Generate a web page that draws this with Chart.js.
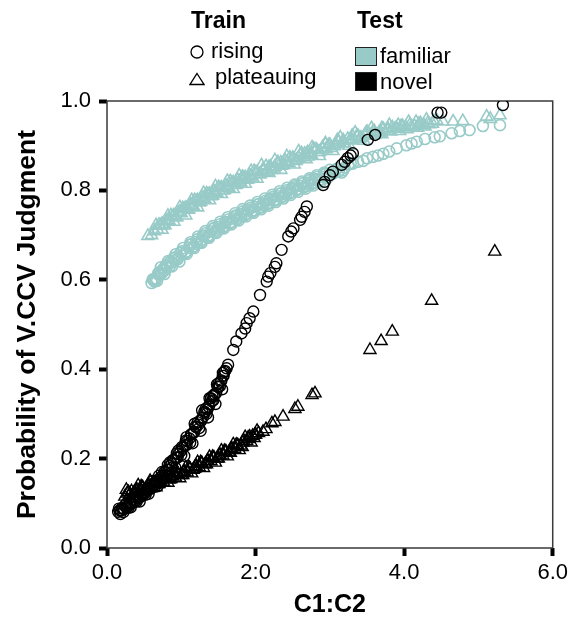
<!DOCTYPE html>
<html>
<head>
<meta charset="utf-8">
<script src="https://cdn.jsdelivr.net/npm/chart.js@4.4.0/dist/chart.umd.min.js"></script>
<style>
  body { margin: 0; background: #fff; }
  #wrap { position: relative; width: 572px; height: 619px; font-family: 'Liberation Sans', Arial, sans-serif; color: #000; }
  #wrap canvas { position: absolute; left: 0; top: 0; }
  .lg { position: absolute; line-height: 1; white-space: nowrap; }
  .lg.head { font-weight: bold; font-size: 23px; }
  .lg.item { font-size: 22px; }
  .sym { position: absolute; }
  .swatch { position: absolute; width: 20px; height: 17px; border: 1px solid #222; }
</style>
</head>
<body>
<div id="wrap">
  <canvas id="chart" width="572" height="619"></canvas>
  <div class="lg head" style="left:191px; top:9px;">Train</div>
  <div class="lg head" style="left:357px; top:9px;">Test</div>
  <svg class="sym" style="left:189px; top:44px;" width="16" height="16"><circle cx="8" cy="8" r="6" fill="none" stroke="#000" stroke-width="1.3"/></svg>
  <div class="lg item" style="left:211px; top:40px;">rising</div>
  <svg class="sym" style="left:189px; top:72px;" width="16" height="14"><polygon points="8,1.5 15,12.5 1,12.5" fill="none" stroke="#000" stroke-width="1.3"/></svg>
  <div class="lg item" style="left:215px; top:66px;">plateauing</div>
  <div class="swatch" style="left:355px; top:47px; background:#98cbc8;"></div>
  <div class="lg item" style="left:380px; top:45px;">familiar</div>
  <div class="swatch" style="left:355px; top:72px; background:#000;"></div>
  <div class="lg item" style="left:380px; top:71px;">novel</div>
</div>
<script>
// tick labels as printed on the original figure
const xTickLabels = ['0.0', '2:0', '4.0', '6.0'];
const yTickLabels = ['0.0', '0.2', '0.4', '0.6', '0.8', '1.0'];

// rising training, novel test items (black circles)
const risingNovelX = [0.15,0.17,0.19,0.21,0.23,0.25,0.28,0.30,0.33,0.36,0.39,0.42,0.45,0.48,0.51,0.54,0.57,0.60,0.63,0.66,0.69,0.72,0.75,0.78,0.81,0.84,0.87,0.90,0.93,0.96,0.99,1.02,1.05,1.08,1.11,1.14,1.17,1.20,1.23,1.26,1.29,1.32,1.35,1.38,1.41,1.44,1.47,1.50,1.54,1.57,1.59,1.63,1.70,1.74,1.81,1.86,1.88,1.92,1.97,2.06,2.15,2.17,2.20,2.26,2.28,2.35,2.44,2.48,2.51,2.60,2.62,2.66,2.69,2.91,2.93,3.00,3.04,3.16,3.20,3.24,3.28,3.31,3.51,3.61,4.45,4.50,5.33,
  0.16,0.22,0.26,0.32,0.38,0.44,0.50,0.56,0.62,0.68,0.74,0.80,0.85,0.92,0.96,1.04,1.07,1.15,1.18,1.26,1.28,1.36,1.38,1.46,1.48,1.55,1.56,1.61,
  0.18,0.24,0.29,0.34,0.40,0.46,0.52,0.58,0.64,0.70,0.76,0.82,0.88,0.94,1.00,1.06,1.12,1.19,1.24,1.31,1.34,1.40,1.43,1.50,1.52,1.58,
  0.20,0.27,0.31,0.37,0.41,0.47,0.53,0.59,0.65,0.71,0.77,0.83,0.89,0.95,1.01,1.07,1.13,1.17,1.22,1.27,1.33,1.37,1.42,1.45,1.49,1.53,1.56];
const risingNovelY = [0.081,0.084,0.083,0.088,0.087,0.092,0.093,0.098,0.099,0.105,0.106,0.112,0.114,0.120,0.122,0.128,0.131,0.137,0.140,0.147,0.151,0.158,0.162,0.170,0.175,0.183,0.188,0.196,0.202,0.210,0.216,0.224,0.230,0.239,0.245,0.254,0.260,0.270,0.276,0.286,0.292,0.303,0.310,0.321,0.328,0.340,0.347,0.360,0.375,0.385,0.396,0.410,0.443,0.462,0.480,0.491,0.503,0.514,0.529,0.566,0.596,0.607,0.615,0.629,0.637,0.667,0.697,0.708,0.715,0.734,0.741,0.752,0.764,0.812,0.819,0.834,0.842,0.857,0.864,0.872,0.878,0.883,0.913,0.924,0.974,0.974,0.991,
  0.088,0.080,0.099,0.091,0.114,0.104,0.130,0.121,0.150,0.138,0.170,0.160,0.192,0.180,0.218,0.206,0.248,0.234,0.278,0.262,0.308,0.292,0.335,0.322,0.366,0.355,0.392,0.402,
  0.076,0.095,0.090,0.107,0.104,0.122,0.119,0.140,0.137,0.162,0.158,0.186,0.180,0.212,0.208,0.240,0.236,0.272,0.268,0.305,0.300,0.335,0.330,0.368,0.362,0.394,
  0.089,0.091,0.102,0.103,0.115,0.117,0.130,0.133,0.148,0.152,0.170,0.175,0.197,0.202,0.226,0.230,0.254,0.258,0.281,0.285,0.312,0.316,0.340,0.344,0.361,0.372,0.385];

// plateauing training, novel test items (black triangles)
const plateauNovelX = [0.24,0.27,0.30,0.33,0.36,0.40,0.44,0.48,0.52,0.56,0.60,0.64,0.68,0.72,0.76,0.80,0.84,0.88,0.92,0.96,1.00,1.04,1.08,1.12,1.16,1.20,1.24,1.28,1.32,1.36,1.40,1.44,1.48,1.52,1.56,1.60,1.64,1.68,1.72,1.76,1.80,1.84,1.88,1.92,1.96,2.00,2.04,2.10,2.14,2.22,2.26,2.37,2.53,2.57,2.76,2.80,3.54,3.69,3.84,4.37,5.22,
  0.26,0.34,0.42,0.50,0.58,0.66,0.74,0.82,0.90,0.98,1.06,1.14,1.22,1.30,1.38,1.46,1.54,1.62,1.70,1.78,1.86,1.94,2.02,
  0.29,0.38,0.46,0.54,0.62,0.70,0.78,0.86,0.94,1.02,1.10,1.18,1.26,1.34,1.42,1.50,1.58,1.66,1.74,1.82,1.90,1.98,
  0.31,0.39,0.47,0.55,0.63,0.71,0.79,0.87,0.95,1.03,1.11,1.19,1.27,1.35,1.43,1.51,1.59,1.67,1.75,1.83,1.91,1.99];
const plateauNovelY = [0.115,0.122,0.118,0.127,0.123,0.131,0.128,0.136,0.133,0.141,0.138,0.146,0.143,0.151,0.148,0.156,0.153,0.161,0.158,0.166,0.163,0.171,0.169,0.177,0.175,0.183,0.181,0.189,0.187,0.195,0.194,0.202,0.200,0.209,0.207,0.216,0.214,0.223,0.221,0.230,0.229,0.240,0.239,0.249,0.251,0.254,0.257,0.260,0.266,0.279,0.282,0.294,0.311,0.316,0.342,0.346,0.443,0.463,0.484,0.553,0.663,
  0.130,0.116,0.140,0.126,0.150,0.136,0.160,0.146,0.170,0.156,0.180,0.167,0.192,0.179,0.204,0.191,0.218,0.205,0.232,0.219,0.248,0.236,0.262,
  0.125,0.122,0.138,0.131,0.147,0.143,0.159,0.154,0.167,0.163,0.181,0.177,0.192,0.187,0.204,0.200,0.217,0.213,0.231,0.226,0.247,0.246,
  0.121,0.128,0.135,0.139,0.145,0.150,0.156,0.161,0.167,0.170,0.178,0.183,0.190,0.195,0.202,0.207,0.215,0.220,0.229,0.236,0.244,0.253];

// rising training, familiar test items (teal circles)
const risingFamX = [0.60,0.63,0.66,0.70,0.73,0.76,0.80,0.84,0.88,0.92,0.96,1.00,1.05,1.10,1.15,1.20,1.25,1.30,1.35,1.40,1.45,1.50,1.55,1.60,1.65,1.70,1.75,1.80,1.85,1.90,1.95,2.00,2.05,2.10,2.15,2.20,2.25,2.30,2.35,2.40,2.45,2.50,2.55,2.60,2.65,2.70,2.75,2.80,2.85,2.90,2.96,3.05,3.12,3.20,3.31,3.38,3.58,3.65,3.72,3.80,3.90,4.03,4.10,4.17,4.28,4.41,4.48,4.64,4.75,4.88,5.06,5.29,
  0.675,0.725,0.775,0.825,0.875,0.925,0.975,1.025,1.075,1.125,1.175,1.225,1.275,1.325,1.375,1.425,1.475,1.525,1.575,1.625,1.675,1.725,1.775,1.825,1.875,1.925,1.975,2.025,2.075,2.125,2.175,2.225,2.275,2.325,2.375,2.425,2.475,2.525,2.575,2.625,2.675,2.725,2.775,2.825,2.875,2.925,3.00,3.10,3.16,3.25,3.45,3.50,
  0.615,0.65,0.69,0.74,0.79,0.85,0.90,0.95,1.01,1.06,1.12,1.17,1.22,1.28,1.33,1.38,1.43,1.48,1.53,1.58,1.63,1.68,1.73,1.78,1.83,1.88,1.93,1.98,2.03,2.08,2.13,2.18,2.23,2.28,2.33,2.38,2.43,2.48,2.53,2.58,2.63,2.68,2.73,2.78,2.83,2.88,2.93,2.98,3.08,3.18,3.28,
  0.64,0.71,0.78,0.86,0.93,0.99,1.07,1.14,1.21,1.29,1.36,1.44,1.51,1.59,1.66,1.74,1.81,1.89,1.96,2.04,2.11,2.19,2.26,2.34,2.41,2.49,2.56,2.64,2.71,2.79,2.86,2.94];
const risingFamY = [0.593,0.600,0.603,0.613,0.615,0.625,0.627,0.638,0.639,0.650,0.650,0.660,0.660,0.672,0.672,0.685,0.684,0.697,0.695,0.708,0.706,0.718,0.716,0.728,0.726,0.737,0.735,0.747,0.744,0.755,0.752,0.763,0.761,0.771,0.769,0.779,0.777,0.787,0.785,0.795,0.793,0.803,0.800,0.810,0.807,0.817,0.814,0.824,0.822,0.830,0.828,0.838,0.843,0.851,0.860,0.864,0.875,0.878,0.882,0.887,0.894,0.901,0.905,0.909,0.915,0.919,0.921,0.928,0.933,0.935,0.944,0.946,
  0.598,0.628,0.613,0.642,0.630,0.657,0.641,0.671,0.658,0.684,0.671,0.697,0.683,0.709,0.694,0.720,0.705,0.730,0.715,0.740,0.724,0.749,0.733,0.758,0.742,0.766,0.750,0.774,0.758,0.782,0.766,0.790,0.774,0.798,0.782,0.806,0.790,0.813,0.797,0.820,0.804,0.827,0.811,0.834,0.818,0.840,0.846,0.849,0.840,0.858,0.866,0.872,
  0.601,0.598,0.615,0.615,0.632,0.631,0.649,0.646,0.664,0.661,0.679,0.675,0.691,0.689,0.704,0.700,0.715,0.710,0.725,0.720,0.735,0.729,0.744,0.739,0.753,0.748,0.761,0.755,0.769,0.763,0.777,0.771,0.785,0.779,0.793,0.787,0.801,0.795,0.809,0.803,0.816,0.810,0.823,0.817,0.830,0.824,0.837,0.830,0.846,0.845,0.861,
  0.596,0.618,0.621,0.642,0.645,0.661,0.663,0.680,0.681,0.699,0.697,0.715,0.714,0.730,0.728,0.743,0.743,0.757,0.755,0.769,0.767,0.781,0.779,0.793,0.791,0.805,0.803,0.816,0.813,0.826,0.823,0.836];

// plateauing training, familiar test items (teal triangles)
const plateauFamX = [0.55,0.60,0.64,0.68,0.72,0.76,0.80,0.84,0.88,0.92,0.96,1.00,1.04,1.08,1.12,1.16,1.20,1.24,1.28,1.32,1.36,1.40,1.44,1.48,1.52,1.56,1.60,1.64,1.68,1.72,1.76,1.80,1.84,1.88,1.92,1.96,2.00,2.05,2.10,2.15,2.20,2.25,2.30,2.35,2.40,2.45,2.50,2.55,2.60,2.65,2.70,2.75,2.80,2.85,2.90,2.95,3.00,3.06,3.12,3.18,3.24,3.30,3.36,3.42,3.48,3.54,3.60,3.66,3.72,3.78,3.84,3.90,3.96,4.02,4.08,4.14,4.20,4.26,4.32,4.38,4.52,4.66,4.79,5.11,5.16,5.29,
  0.66,0.74,0.82,0.90,0.98,1.06,1.14,1.22,1.30,1.38,1.46,1.54,1.62,1.70,1.78,1.86,1.94,2.02,2.08,2.18,2.26,2.34,2.42,2.52,2.58,2.68,2.76,2.86,2.94,3.04,3.14,3.26,3.34,3.46,3.56,3.70,3.80,3.94,4.06,4.18,4.30,4.44,
  0.70,0.78,0.86,0.94,1.02,1.10,1.18,1.26,1.34,1.42,1.50,1.58,1.66,1.74,1.82,1.90,1.98,2.06,2.14,2.22,2.30,2.38,2.46,2.54,2.62,2.70,2.78,2.86,2.94,3.02,3.10,3.20,3.30,3.40,3.50,3.60,3.70,3.82,3.92,4.04,4.16,4.28,4.40,
  0.74,0.82,0.90,0.98,1.06,1.14,1.22,1.30,1.38,1.46,1.54,1.62,1.70,1.78,1.86,1.94,2.02,2.10,2.18,2.26,2.34,2.42,2.50,2.58,2.66,2.74,2.82,2.90,2.98,3.08,3.18,3.28,3.38,3.48,3.58,3.68,3.78,3.88,3.98,4.10,4.22,4.34];
const plateauFamY = [0.698,0.700,0.709,0.712,0.721,0.722,0.731,0.731,0.741,0.740,0.750,0.749,0.759,0.758,0.768,0.765,0.776,0.773,0.784,0.780,0.791,0.787,0.798,0.794,0.805,0.800,0.811,0.806,0.817,0.812,0.823,0.818,0.828,0.824,0.834,0.829,0.840,0.836,0.847,0.842,0.853,0.849,0.860,0.855,0.866,0.861,0.872,0.868,0.879,0.874,0.885,0.880,0.891,0.886,0.896,0.892,0.902,0.899,0.909,0.906,0.915,0.912,0.921,0.918,0.927,0.924,0.932,0.929,0.937,0.934,0.941,0.938,0.944,0.941,0.947,0.944,0.949,0.946,0.951,0.949,0.954,0.954,0.955,0.965,0.960,0.968,
  0.722,0.712,0.743,0.730,0.762,0.744,0.778,0.762,0.794,0.778,0.809,0.792,0.821,0.803,0.833,0.815,0.843,0.826,0.856,0.839,0.867,0.846,0.876,0.858,0.887,0.870,0.896,0.877,0.905,0.888,0.918,0.900,0.929,0.911,0.939,0.926,0.946,0.933,0.953,0.940,0.958,0.956,
  0.723,0.722,0.744,0.740,0.760,0.757,0.778,0.775,0.793,0.788,0.807,0.801,0.820,0.813,0.830,0.825,0.843,0.836,0.854,0.846,0.863,0.857,0.873,0.866,0.883,0.876,0.893,0.886,0.903,0.895,0.912,0.905,0.922,0.915,0.931,0.924,0.939,0.932,0.946,0.937,0.953,0.943,0.955,
  0.725,0.733,0.744,0.752,0.761,0.767,0.778,0.782,0.792,0.796,0.806,0.808,0.818,0.820,0.829,0.832,0.841,0.843,0.852,0.853,0.862,0.863,0.872,0.873,0.882,0.882,0.891,0.892,0.901,0.903,0.912,0.914,0.922,0.923,0.931,0.931,0.938,0.938,0.944,0.943,0.950,0.948];

const teal = '#98cbc8';
const fontFam = "'Liberation Sans', Arial, sans-serif";

function pairs(xs, ys) {
  return xs.map((x, i) => ({ x: x, y: ys[i] }));
}

// draws the full box round the plot area
const frame = {
  id: 'frame',
  beforeDatasetsDraw(chart) {
    const a = chart.chartArea;
    const ctx = chart.ctx;
    ctx.save();
    ctx.strokeStyle = '#3a3a3a';
    ctx.lineWidth = 1.5;
    ctx.strokeRect(a.left, a.top, a.right - a.left, a.bottom - a.top);
    ctx.restore();
  }
};

const ctx = document.getElementById('chart').getContext('2d');
new Chart(ctx, {
  type: 'scatter',
  data: {
    datasets: [
      { label: 'rising novel', data: pairs(risingNovelX, risingNovelY), pointStyle: 'circle', pointRadius: 5.5, borderColor: '#000', backgroundColor: 'rgba(0,0,0,0)', borderWidth: 1.4 },
      { label: 'plateauing novel', data: pairs(plateauNovelX, plateauNovelY), pointStyle: 'triangle', pointRadius: 7, borderColor: '#000', backgroundColor: 'rgba(0,0,0,0)', borderWidth: 1.4 },
      { label: 'rising familiar', data: pairs(risingFamX, risingFamY), pointStyle: 'circle', pointRadius: 5.5, borderColor: teal, backgroundColor: 'rgba(0,0,0,0)', borderWidth: 1.6 },
      { label: 'plateauing familiar', data: pairs(plateauFamX, plateauFamY), pointStyle: 'triangle', pointRadius: 7, borderColor: teal, backgroundColor: 'rgba(0,0,0,0)', borderWidth: 1.6 }
    ]
  },
  options: {
    responsive: false,
    animation: false,
    layout: { padding: { top: 101, right: 19, left: 0, bottom: 0 } },
    plugins: {
      legend: { display: false },
      tooltip: { enabled: false }
    },
    scales: {
      x: {
        type: 'linear',
        min: 0,
        max: 6,
        afterFit: s => { s.height = 71; },
        afterBuildTicks: s => { s.ticks = [0, 2, 4, 6].map(v => ({ value: v })); },
        border: { display: false },
        grid: { drawOnChartArea: false, drawTicks: true, tickLength: 8, tickWidth: 4, tickColor: '#000' },
        ticks: {
          color: '#000',
          padding: 4,
          maxRotation: 0,
          font: { family: fontFam, size: 22 },
          callback: v => xTickLabels[Math.round(v / 2)]
        },
        title: {
          display: true,
          text: 'C1:C2',
          color: '#000',
          font: { family: fontFam, size: 25, weight: 'bold', lineHeight: 1.1 },
          padding: { top: 0, bottom: 0 }
        }
      },
      y: {
        type: 'linear',
        min: 0,
        max: 1,
        afterFit: s => { s.width = 107; },
        afterBuildTicks: s => { s.ticks = [0, 0.2, 0.4, 0.6, 0.8, 1.0].map(v => ({ value: v })); },
        border: { display: false },
        grid: { drawOnChartArea: false, drawTicks: true, tickLength: 8, tickWidth: 4, tickColor: '#000' },
        ticks: {
          color: '#000',
          padding: 8,
          font: { family: fontFam, size: 22 },
          callback: v => yTickLabels[Math.round(v * 5)]
        },
        title: {
          display: true,
          text: 'Probability of V.CCV Judgment',
          color: '#000',
          font: { family: fontFam, size: 26.5, weight: 'bold', lineHeight: 1.2 },
          padding: { top: 12, bottom: 0 }
        }
      }
    }
  },
  plugins: [frame]
});
</script>
</body>
</html>
